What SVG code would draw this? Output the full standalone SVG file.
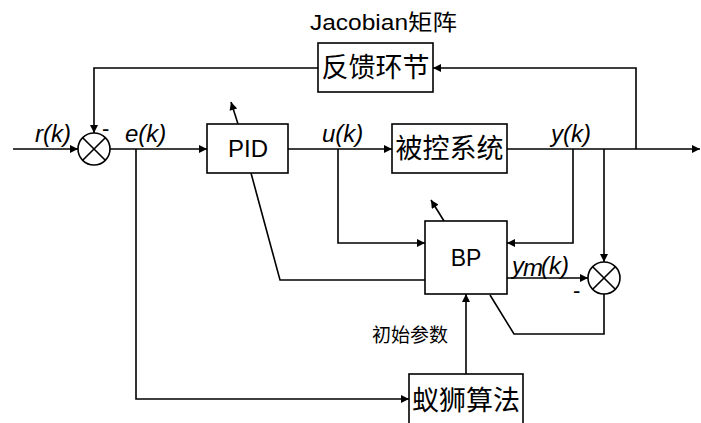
<svg xmlns="http://www.w3.org/2000/svg" width="701" height="423" viewBox="0 0 701 423">
<defs>
<marker id="ah" viewBox="0 0 10 10" refX="10" refY="5" markerWidth="9" markerHeight="8" markerUnits="userSpaceOnUse" orient="auto">
<path d="M0,0 L10,5 L0,10 z" fill="#000"/>
</marker>
<style>
.ln{fill:none;stroke:#000;stroke-width:1.6}
.bx{fill:#fff;stroke:#000;stroke-width:1.6}
.cn{fill:#fff;stroke:#000;stroke-width:1.6}
.cj{font-family:"Liberation Sans","Noto Sans CJK SC",sans-serif;fill:#000}
.it{font-family:"Liberation Sans",sans-serif;font-style:italic;fill:#000;font-size:24px}
.lb{font-family:"Liberation Sans",sans-serif;fill:#000}
</style>
</defs>
<rect width="701" height="423" fill="#fff"/>
<g id="connectors">
<path class="ln" d="M13,149 L78,149" marker-end="url(#ah)"/>
<path class="ln" d="M318,68 L94,68 L94,133" marker-end="url(#ah)"/>
<path class="ln" d="M110,149 L207,149" marker-end="url(#ah)"/>
<path class="ln" d="M136,149 L136,399 L409,399" marker-end="url(#ah)"/>
<path class="ln" d="M238,124 L231,102" marker-end="url(#ah)"/>
<path class="ln" d="M251,173 L280,280 L425,280"/>
<path class="ln" d="M288,149 L392,149" marker-end="url(#ah)"/>
<path class="ln" d="M338,149 L338,243 L425,243" marker-end="url(#ah)"/>
<path class="ln" d="M507,149 L700,149" marker-end="url(#ah)"/>
<path class="ln" d="M636,149 L636,68 L433,68" marker-end="url(#ah)"/>
<path class="ln" d="M573,149 L573,243 L507,243" marker-end="url(#ah)"/>
<path class="ln" d="M604,149 L604,262" marker-end="url(#ah)"/>
<path class="ln" d="M507,278 L588,278" marker-end="url(#ah)"/>
<path class="ln" d="M604,294 L604,334 L514,334 L490,295"/>
<path class="ln" d="M444,221 L431,200" marker-end="url(#ah)"/>
<path class="ln" d="M466,374 L466,294" marker-end="url(#ah)"/>
</g>
<g id="sum1">
<circle class="cn" cx="94" cy="149" r="16"/>
<path class="ln" d="M82.7,137.7 L105.3,160.3 M105.3,137.7 L82.7,160.3"/>
</g>
<g id="sum2">
<circle class="cn" cx="604" cy="278" r="16"/>
<path class="ln" d="M592.7,266.7 L615.3,289.3 M615.3,266.7 L592.7,289.3"/>
</g>
<g id="jacobian">
<rect class="bx" x="318" y="43" width="115" height="49"/>
<text class="cj" x="375.5" y="77" font-size="27" text-anchor="middle">反馈环节</text>
<text class="cj" x="310" y="30" font-size="22" textLength="147" lengthAdjust="spacingAndGlyphs">Jacobian矩阵</text>
</g>
<g id="pid">
<rect class="bx" x="207" y="124" width="81" height="49"/>
<text class="lb" x="248" y="157" font-size="24" text-anchor="middle">PID</text>
</g>
<g id="plant">
<rect class="bx" x="392" y="124" width="115" height="49"/>
<text class="cj" x="449.5" y="158" font-size="27" text-anchor="middle">被控系统</text>
</g>
<g id="bp">
<rect class="bx" x="425" y="221" width="82" height="73"/>
<text class="lb" x="466" y="266" font-size="23" text-anchor="middle">BP</text>
</g>
<g id="alo">
<rect class="bx" x="409" y="374" width="114" height="52"/>
<text class="cj" x="466" y="410" font-size="27" text-anchor="middle">蚁狮算法</text>
</g>
<g id="labels">
<text class="it" x="512" y="274" font-size="23">y</text>
<text class="it" x="523" y="276" font-size="11">m</text>
<text class="it" x="541" y="274" font-size="22">(k)</text>
<text class="it" x="35" y="142">r(k)</text>
<text class="it" x="125" y="142">e(k)</text>
<text class="it" x="322" y="142">u(k)</text>
<text class="it" x="551" y="142">y(k)</text>
<text class="lb" x="102" y="136" font-size="22">-</text>
<text class="lb" x="573" y="298" font-size="22">-</text>
<text class="cj" x="372" y="342" font-size="19">初始参数</text>
</g>
</svg>
